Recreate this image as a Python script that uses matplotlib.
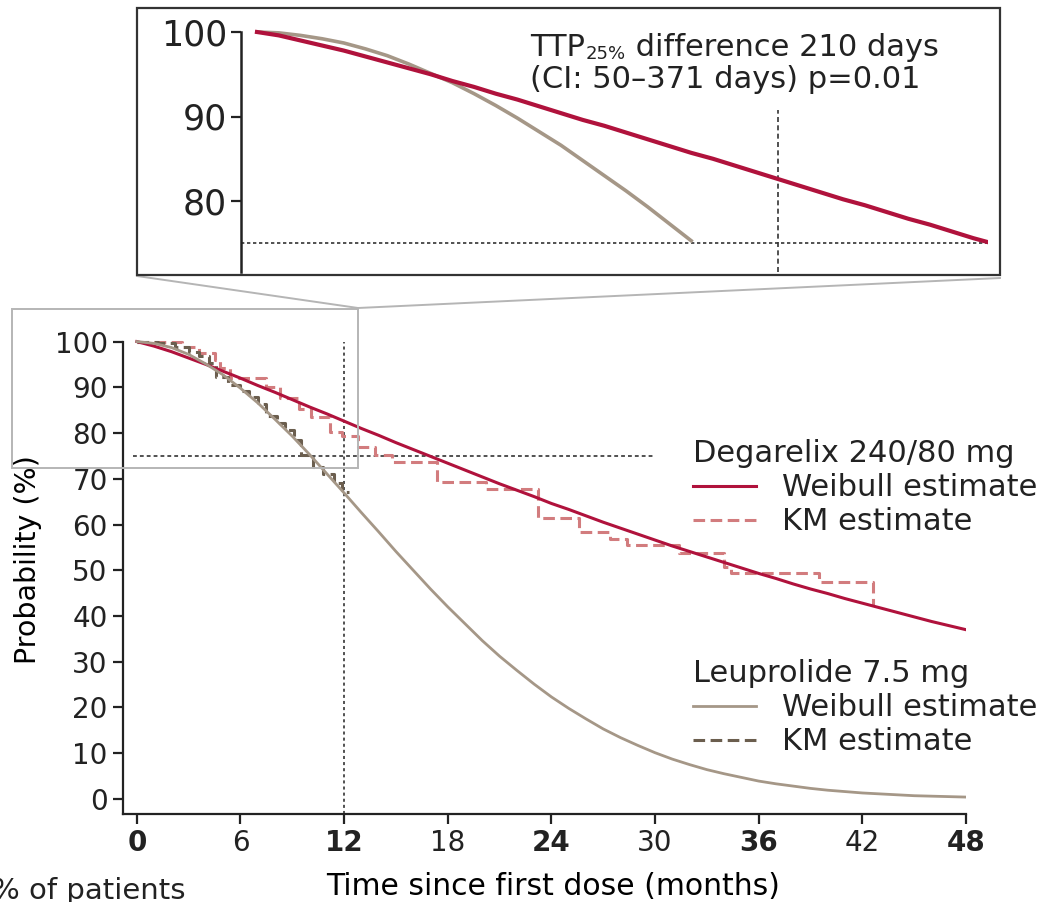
import matplotlib
matplotlib.use("Agg")
import matplotlib.pyplot as plt
from matplotlib.lines import Line2D
from matplotlib.patches import Rectangle

# ---------------- data ----------------
months = list(range(0, 49))
degarelix_weibull = [100.0, 99.0, 97.8, 96.4, 95.0, 93.5, 92.0, 90.4, 88.9, 87.3,
                     85.7, 84.2, 82.6, 81.0, 79.5, 77.9, 76.4, 74.9, 73.4, 71.9,
                     70.4, 68.9, 67.5, 66.1, 64.6, 63.3, 61.9, 60.5, 59.2, 57.9,
                     56.6, 55.3, 54.1, 52.9, 51.7, 50.5, 49.3, 48.2, 47.0, 45.9,
                     44.9, 43.8, 42.8, 41.8, 40.8, 39.8, 38.8, 37.9, 37.0]
leuprolide_weibull = [100.0, 99.6, 98.7, 97.2, 95.1, 92.7, 89.8, 86.6, 83.0, 79.3,
                      75.3, 71.1, 66.9, 62.6, 58.4, 54.1, 50.0, 45.9, 42.0, 38.3,
                      34.6, 31.2, 28.1, 25.1, 22.3, 19.8, 17.5, 15.3, 13.4, 11.7,
                      10.1, 8.7, 7.5, 6.4, 5.5, 4.7, 3.9, 3.3, 2.8, 2.3,
                      1.9, 1.6, 1.3, 1.1, 0.9, 0.7, 0.6, 0.5, 0.4]

# inset (zoomed) curves, read at half-month resolution
inset_months_deg = [0, 0.5, 1, 1.5, 2, 2.5, 3, 3.5, 4, 4.5, 5, 5.5, 6, 6.5, 7, 7.5,
                    8, 8.5, 9, 9.5, 10, 10.5, 11, 11.5, 12, 12.5, 13, 13.5, 14,
                    14.5, 15, 15.5, 16, 16.5, 17]
inset_degarelix = [100.0, 99.6, 99.0, 98.4, 97.8, 97.1, 96.4, 95.7, 95.0, 94.2, 93.5,
                   92.7, 92.0, 91.2, 90.4, 89.6, 88.9, 88.1, 87.3, 86.5, 85.7, 85.0,
                   84.2, 83.4, 82.6, 81.8, 81.0, 80.2, 79.5, 78.7, 77.9, 77.2, 76.4,
                   75.6, 74.9]
inset_months_leu = [0, 0.5, 1, 1.5, 2, 2.5, 3, 3.5, 4, 4.5, 5, 5.5, 6, 6.5, 7, 7.5,
                    8, 8.5, 9, 9.5, 10]
inset_leuprolide = [100.0, 99.9, 99.6, 99.2, 98.7, 98.0, 97.2, 96.2, 95.1, 94.0, 92.7,
                    91.3, 89.8, 88.2, 86.6, 84.8, 83.0, 81.2, 79.3, 77.3, 75.3]

degarelix_km_t = [0, 2.6, 3.6, 4.5, 4.8, 5.4, 7.5, 8.3, 9.4, 10.1, 11.2, 11.9,
                  12.8, 13.8, 14.8, 17.4, 20.2, 23.2, 25.6, 27.4, 28.4, 31.4,
                  34.0, 34.4, 39.5, 42.6]
degarelix_km_s = [100, 98.8, 97.4, 96.0, 94.2, 92.0, 90.0, 87.7, 85.2, 83.6, 80.3, 79.4,
                  76.9, 75.3, 73.6, 69.2, 67.7, 61.5, 58.3, 56.8, 55.5, 53.8,
                  50.7, 49.4, 47.4, 42.2]
leuprolide_km_t = [0, 1.2, 2.2, 3.0, 3.6, 4.2, 4.6, 5.3, 6.0, 6.5, 7.0, 7.5, 8.1,
                   8.6, 9.1, 9.5, 10.2, 10.8, 11.4, 11.9, 12.3]
leuprolide_km_s = [100, 99.6, 98.9, 97.8, 96.9, 95.4, 92.2, 90.5, 89.3, 87.8, 86.4,
                   83.8, 82.3, 80.6, 78.4, 75.3, 72.6, 71.0, 69.0, 67.2, 67.2]

x_ticks = [0, 6, 12, 18, 24, 30, 36, 42, 48]
bold_x_ticks = [0, 12, 24, 36, 48]
y_ticks = [0, 10, 20, 30, 40, 50, 60, 70, 80, 90, 100]
inset_y_ticks = [80, 90, 100]
ttp_threshold = 75
landmark_month = 12

# ---------------- style ----------------
RED = "#b0123c"
RED_KM = "#d27c7e"
TAN = "#a59787"
TAN_KM = "#6b5e4e"
TXT = "#222222"

plt.rcParams["font.family"] = ["DejaVu Sans"]
plt.rcParams["text.color"] = TXT

W, H = 1037, 902
fig = plt.figure(figsize=(W / 100, H / 100), dpi=100)


def fx(px):
    return px / W


def fy(py):
    return 1 - py / H


# ---------------- main axes ----------------
ax_l, ax_r, ax_b, ax_t = 123, 966, 814, 337
ax = fig.add_axes([fx(ax_l), fy(ax_b), fx(ax_r - ax_l), (ax_b - ax_t) / H])
ax.set_xlim(-0.8, 48)
ax.set_ylim(-3.3, 101)

ax.plot(months, degarelix_weibull, color=RED, lw=2.2, zorder=4)
ax.step(degarelix_km_t, degarelix_km_s, where="post", color=RED_KM, lw=2.2,
        dashes=(3.8, 1.8), zorder=3)
ax.plot(months, leuprolide_weibull, color=TAN, lw=2.0, zorder=4)
ax.step(leuprolide_km_t, leuprolide_km_s, where="post", color=TAN_KM, lw=2.2,
        dashes=(3.8, 1.8), zorder=3)

ax.plot([-0.2, 30], [ttp_threshold, ttp_threshold], color="#222222", lw=1.1,
        dashes=(2.5, 2.0), zorder=2)
ax.plot([landmark_month, landmark_month], [-3.3, 100], color="#222222", lw=1.1,
        dashes=(2.0, 2.0), zorder=2)

for s in ["top", "right"]:
    ax.spines[s].set_visible(False)
for s in ["left", "bottom"]:
    ax.spines[s].set_linewidth(1.6)
    ax.spines[s].set_color("#222222")
ax.spines["left"].set_bounds(-3.3, 100)

ax.set_xticks(x_ticks)
ax.set_xticklabels([str(v) for v in x_ticks])
ax.set_yticks(y_ticks)
ax.set_yticklabels([str(v) for v in y_ticks])
ax.tick_params(axis="both", direction="out", length=7, width=1.6, colors="#222222",
               labelsize=20, labelcolor=TXT)
ax.tick_params(axis="y", pad=4)
ax.tick_params(axis="x", pad=4)
for lab, v in zip(ax.get_xticklabels(), x_ticks):
    if v in bold_x_ticks:
        lab.set_fontweight("bold")

ax.set_ylabel("Probability (%)", fontsize=20.5)
ax.yaxis.set_label_coords((42 - ax_l) / (ax_r - ax_l), (ax_b - 560) / (ax_b - ax_t))
ax.set_xlabel("Time since first dose (months)", fontsize=21.5)
ax.xaxis.set_label_coords((553 - ax_l) / (ax_r - ax_l), -(872 - ax_b) / (ax_b - ax_t))
ax.patch.set_alpha(0)

# legends
h_red = [Line2D([], [], color=RED, lw=2.2),
         Line2D([], [], color=RED_KM, lw=2.2, dashes=(3.8, 1.8))]
h_tan = [Line2D([], [], color=TAN, lw=2.0),
         Line2D([], [], color=TAN_KM, lw=2.2, dashes=(3.8, 1.8))]
labels = ["Weibull estimate", "KM estimate"]
leg_kw = dict(loc="upper left", bbox_transform=fig.transFigure, frameon=False,
              fontsize=22, title_fontsize=22, handlelength=2.05, handletextpad=0.85,
              labelspacing=0.17, alignment="left", borderpad=0.1, borderaxespad=0)
leg1 = ax.legend(h_red, labels, title="Degarelix 240/80 mg",
                 bbox_to_anchor=(fx(690), fy(436)), **leg_kw)
ax.add_artist(leg1)
leg2 = ax.legend(h_tan, labels, title="Leuprolide 7.5 mg",
                 bbox_to_anchor=(fx(690), fy(656)), **leg_kw)

# zoom box and connectors
fig.add_artist(Rectangle((fx(12), fy(468)), fx(358 - 12), (468 - 309) / H,
                         transform=fig.transFigure, fill=False, ec="#b5b5b5", lw=1.4))
fig.add_artist(Line2D([fx(137), fx(358)], [fy(276), fy(308)], transform=fig.transFigure,
                      color="#b5b5b5", lw=1.4))
fig.add_artist(Line2D([fx(358), fx(1000)], [fy(308), fy(278)], transform=fig.transFigure,
                      color="#b5b5b5", lw=1.4))

# ---------------- inset ----------------
fig.add_artist(Rectangle((fx(137), fy(275)), fx(1000 - 137), (275 - 8) / H,
                         transform=fig.transFigure, fill=True, fc="white",
                         ec="#333333", lw=1.6, zorder=5))
ia_l, ia_r, ia_b, ia_t = 241, 988, 272, 9
axi = fig.add_axes([fx(ia_l), fy(ia_b), fx(ia_r - ia_l), (ia_b - ia_t) / H], zorder=6)
axi.patch.set_alpha(0)
x0_px, x12_px = 257, 778
ppm = (x12_px - x0_px) / 12.0
axi.set_xlim((ia_l - x0_px) / ppm, (ia_r - x0_px) / ppm)
ppp = (201 - 32) / 20.0
axi.set_ylim(100 - (ia_b - 32) / ppp, 100 + (32 - ia_t) / ppp)
ylo = 100 - (ia_b - 32) / ppp

axi.plot(inset_months_deg, inset_degarelix, color=RED, lw=3.0, zorder=4)
axi.plot(inset_months_leu, inset_leuprolide, color=TAN, lw=2.6, zorder=3)
axi.plot([axi.get_xlim()[0], axi.get_xlim()[1]], [ttp_threshold, ttp_threshold],
         color="#333333", lw=1.2, dashes=(2.0, 1.6), zorder=2)
axi.plot([landmark_month, landmark_month], [ylo, 90.8], color="#333333", lw=1.2,
         dashes=(3.0, 2.0), zorder=2)

for s in ["top", "right", "bottom"]:
    axi.spines[s].set_visible(False)
axi.spines["left"].set_linewidth(1.8)
axi.spines["left"].set_color("#222222")
axi.spines["left"].set_bounds(ylo, 100)
axi.set_xticks([])
axi.set_yticks(inset_y_ticks)
axi.set_yticklabels([str(v) for v in inset_y_ticks])
axi.tick_params(axis="y", direction="out", length=7, width=1.6, colors="#222222",
                labelsize=25, labelcolor=TXT, pad=3)

# annotation text with subscript
fig.canvas.draw()
r = fig.canvas.get_renderer()
tx, ty = fx(530), fy(56)
t1 = fig.text(tx, ty, "TTP", fontsize=22, ha="left", va="baseline", zorder=7)
bb = t1.get_window_extent(renderer=r)
t2 = fig.text(bb.x1 / W + 0.001, ty - 0.003, "25%", fontsize=13, ha="left",
              va="baseline", zorder=7)
bb2 = t2.get_window_extent(renderer=r)
fig.text(bb2.x1 / W, ty, " difference 210 days", fontsize=22, ha="left",
         va="baseline", zorder=7)
fig.text(tx, fy(88), "(CI: 50\u2013371 days) p=0.01", fontsize=22, ha="left",
         va="baseline", zorder=7)

# caption fragment at the bottom-left edge (cut off, as in the source image)
fig.text(fx(-8), fy(877), "% of patients", fontsize=21, ha="left", va="top")

fig.savefig("out.png", dpi=100)
